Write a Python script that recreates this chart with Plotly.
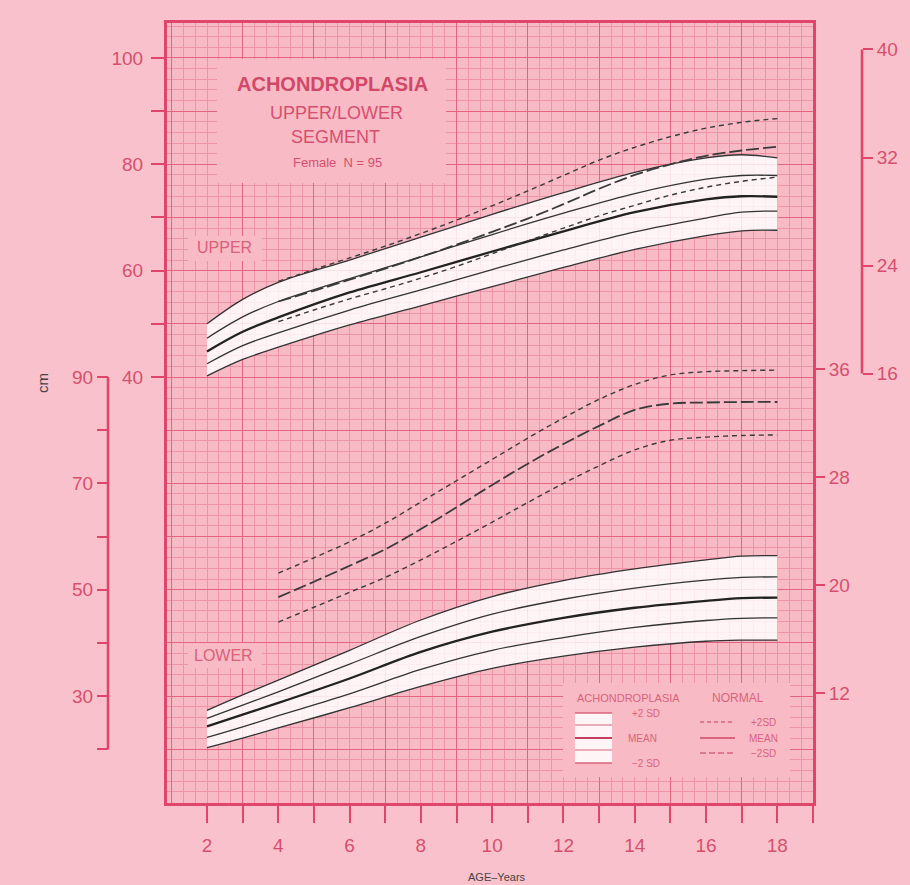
import numpy as np
import plotly.graph_objects as go

W, H = 910, 885

# ---------------- data ----------------
ach_age = [2, 3, 4, 6, 8, 10, 12, 14, 16, 17, 18]
# upper segment, achondroplasia (cm)
up_ach_p2 = [50.0, 54.6, 57.8, 62.0, 66.3, 70.6, 74.7, 78.5, 81.2, 81.8, 81.2]
up_ach_p1 = [47.3, 51.3, 54.2, 58.5, 62.6, 66.8, 70.8, 74.5, 77.2, 77.9, 77.9]
up_ach_mean = [44.8, 48.5, 51.2, 55.9, 59.7, 63.6, 67.4, 71.0, 73.4, 74.0, 73.9]
up_ach_m1 = [42.5, 45.9, 48.3, 52.6, 56.4, 60.2, 63.9, 67.3, 69.9, 71.0, 71.2]
up_ach_m2 = [40.2, 43.3, 45.6, 49.8, 53.4, 57.0, 60.6, 64.0, 66.6, 67.5, 67.6]
# lower segment, achondroplasia (cm)
lo_ach_p2 = [27.3, 30.2, 33.0, 38.6, 44.3, 48.7, 51.7, 53.9, 55.6, 56.3, 56.4]
lo_ach_p1 = [25.8, 28.3, 30.8, 36.0, 41.2, 45.4, 48.2, 50.3, 51.8, 52.3, 52.4]
lo_ach_mean = [24.3, 26.5, 28.7, 33.3, 38.3, 42.1, 44.7, 46.6, 47.9, 48.4, 48.5]
lo_ach_m1 = [22.2, 24.2, 26.3, 30.4, 35.0, 38.6, 41.0, 42.9, 44.2, 44.6, 44.7]
lo_ach_m2 = [20.3, 22.1, 24.0, 27.8, 31.8, 35.2, 37.5, 39.2, 40.3, 40.5, 40.5]

norm_age = [4, 5, 6, 7, 8, 9, 10, 11, 12, 13, 14, 15, 16, 17, 18]
up_norm_p2 = [58.0, 60.2, 62.4, 64.6, 67.0, 69.5, 72.2, 75.0, 77.9, 80.8, 83.2, 85.2, 86.8, 87.9, 88.6]
up_norm_mean = [54.2, 56.2, 58.3, 60.4, 62.6, 64.9, 67.3, 69.8, 72.5, 75.4, 78.0, 80.0, 81.6, 82.6, 83.3]
up_norm_m2 = [50.4, 52.6, 54.7, 56.6, 58.6, 60.8, 63.2, 65.6, 68.0, 70.3, 72.3, 74.2, 75.7, 76.8, 77.6]
lo_norm_p2 = [53.1, 56.0, 59.0, 62.5, 66.5, 70.5, 74.5, 78.5, 82.3, 85.8, 88.6, 90.4, 91.0, 91.2, 91.3]
lo_norm_mean = [48.6, 51.5, 54.5, 57.6, 61.4, 65.5, 69.7, 73.7, 77.4, 80.8, 83.8, 85.0, 85.2, 85.3, 85.3]
lo_norm_m2 = [43.9, 46.7, 49.5, 52.3, 55.6, 59.1, 62.7, 66.4, 70.0, 73.3, 76.3, 78.1, 78.7, 79.0, 79.1]

# tick labels
age_ticks = list(range(2, 20))
age_labels = [str(a) if a % 2 == 0 and a <= 18 else "" for a in age_ticks]
upper_cm_ticks = list(range(40, 101, 10))
upper_cm_labels = [str(v) if v % 20 == 0 else "" for v in upper_cm_ticks]
lower_cm_ticks = list(range(20, 91, 10))
lower_cm_labels = [str(v) if v % 20 == 10 else "" for v in lower_cm_ticks]
lower_in_ticks = [12, 20, 28, 36]
upper_in_ticks = [16, 24, 32, 40]

# ---------------- geometry / style ----------------
X0, X1 = 0.878, 19.0
Y0, Y1 = -40.12, 106.58          # upper-segment cm units
OFFSET = 50.0                    # lower scale = upper scale + 50
INCH = 2.54
PL, PR, PT, PB = 167, 813, 23, 803

PAPER = "#F9C1CB"
PLOT_BG = "#F8BAC5"
FRAME = "#E0466B"
MAJ_GRID = "#E36580"
MIN_GRID = "#EF93A6"
TXT = "#D5506F"
INK = "#333333"
FILL = "rgba(255,255,255,0.82)"
FONT = "Liberation Sans, Arial, sans-serif"


def px_x(p):
    return p / W


def px_y(p):
    return 1 - p / H


def dx(p):
    return X0 + (p - PL) / (PR - PL) * (X1 - X0)


def dy(p):
    return Y1 - (p - PT) / (PB - PT) * (Y1 - Y0)


fig = go.Figure()


def band(ages, lo, hi, inner, mean, yaxis):
    fig.add_trace(go.Scatter(x=ages, y=lo, mode="lines", yaxis=yaxis,
                             line=dict(color=INK, width=1.3, shape="spline"),
                             hoverinfo="skip", showlegend=False))
    fig.add_trace(go.Scatter(x=ages, y=hi, mode="lines", yaxis=yaxis, fill="tonexty",
                             fillcolor=FILL,
                             line=dict(color=INK, width=1.3, shape="spline"),
                             hoverinfo="skip", showlegend=False))
    for s in inner:
        fig.add_trace(go.Scatter(x=ages, y=s, mode="lines", yaxis=yaxis,
                                 line=dict(color=INK, width=1.3, shape="spline"),
                                 hoverinfo="skip", showlegend=False))
    fig.add_trace(go.Scatter(x=ages, y=mean, mode="lines", yaxis=yaxis,
                             line=dict(color="#222222", width=2.3, shape="spline"),
                             hoverinfo="skip", showlegend=False))


def normal(ages, p2, mean, m2, yaxis):
    for s, dash, w in ((p2, "5px,4px", 1.4), (mean, "13px,4px", 1.8), (m2, "5px,4px", 1.4)):
        fig.add_trace(go.Scatter(x=ages, y=s, mode="lines", yaxis=yaxis,
                                 line=dict(color="#3a3a3a", width=w, dash=dash, shape="spline"),
                                 hoverinfo="skip", showlegend=False))


band(ach_age, up_ach_m2, up_ach_p2, [up_ach_p1, up_ach_m1], up_ach_mean, "y")
normal(norm_age, up_norm_p2, up_norm_mean, up_norm_m2, "y")
band(ach_age, lo_ach_m2, lo_ach_p2, [lo_ach_p1, lo_ach_m1], lo_ach_mean, "y3")
normal(norm_age, lo_norm_p2, lo_norm_mean, lo_norm_m2, "y3")

# dummy traces so that overlay axes are drawn
for xa, ya in (("x2", "y"), ("x", "y2"), ("x", "y4"), ("x", "y5")):
    fig.add_trace(go.Scatter(x=[None], y=[None], xaxis=xa, yaxis=ya, mode="lines",
                             hoverinfo="skip", showlegend=False))

dom_x = [px_x(PL), px_x(PR)]
dom_y = [px_y(PB), px_y(PT)]
tickfont = dict(family=FONT, size=19, color=TXT)

fig.update_layout(
    width=W, height=H,
    margin=dict(l=0, r=0, t=0, b=0, autoexpand=False),
    paper_bgcolor=PAPER, plot_bgcolor=PLOT_BG,
    showlegend=False,
    xaxis=dict(domain=dom_x, range=[X0, X1], tickmode="array",
               tickvals=list(range(1, 20, 2)), showticklabels=False, ticks="",
               showgrid=True, gridcolor=MAJ_GRID, gridwidth=1.4, zeroline=False,
               minor=dict(tickmode="array", tickvals=list(np.arange(1, 19.01, 1 / 3)),
                          showgrid=True, gridcolor=MIN_GRID, gridwidth=0.8, ticks=""),
               showline=True, mirror=True, linecolor=FRAME, linewidth=2.5),
    xaxis2=dict(overlaying="x", anchor="y", side="bottom", range=[X0, X1],
                tickmode="array", tickvals=age_ticks, ticktext=age_labels,
                ticks="outside", ticklen=19, tickwidth=2, tickcolor=FRAME,
                ticklabelstandoff=6,
                showgrid=False, zeroline=False, showline=False, tickfont=tickfont),
    yaxis=dict(domain=dom_y, range=[Y0, Y1], tickmode="array",
               tickvals=list(range(-40, 101, 10)), showticklabels=False, ticks="",
               showgrid=True, gridcolor=MAJ_GRID, gridwidth=1.4, zeroline=False,
               minor=dict(tickmode="array", tickvals=list(range(-40, 107, 2)),
                          showgrid=True, gridcolor=MIN_GRID, gridwidth=0.8, ticks=""),
               showline=True, mirror=True, linecolor=FRAME, linewidth=2.5),
    yaxis2=dict(overlaying="y", anchor="x", side="left", range=[Y0, Y1],
                tickmode="array", tickvals=upper_cm_ticks, ticktext=upper_cm_labels,
                ticks="outside", ticklen=15, tickwidth=2, tickcolor=FRAME,
                ticklabelstandoff=4,
                showgrid=False, zeroline=False, showline=False, tickfont=tickfont),
    yaxis3=dict(overlaying="y", anchor="free", position=px_x(108), side="left",
                range=[Y0 + OFFSET, Y1 + OFFSET],
                tickmode="array", tickvals=lower_cm_ticks, ticktext=lower_cm_labels,
                ticks="outside", ticklen=11, tickwidth=2, tickcolor=FRAME,
                showgrid=False, zeroline=False, showline=False, tickfont=tickfont),
    yaxis4=dict(overlaying="y", anchor="x", side="right",
                range=[(Y0 + OFFSET) / INCH, (Y1 + OFFSET) / INCH],
                tickmode="array", tickvals=lower_in_ticks,
                ticks="outside", ticklen=11, tickwidth=2, tickcolor=FRAME,
                showgrid=False, zeroline=False, showline=False, tickfont=tickfont),
    yaxis5=dict(overlaying="y", anchor="free", position=px_x(862), side="right",
                range=[Y0 / INCH, Y1 / INCH],
                tickmode="array", tickvals=upper_in_ticks,
                ticks="outside", ticklen=10, tickwidth=2, tickcolor=FRAME,
                showgrid=False, zeroline=False, showline=False, tickfont=tickfont),
)

shapes = []
# free axis lines (bracket scales)
shapes.append(dict(type="line", xref="paper", x0=px_x(108), x1=px_x(108),
                   yref="y3", y0=min(lower_cm_ticks), y1=max(lower_cm_ticks),
                   line=dict(color=FRAME, width=2.5)))
shapes.append(dict(type="line", xref="paper", x0=px_x(862), x1=px_x(862),
                   yref="y5", y0=min(upper_in_ticks), y1=max(upper_in_ticks),
                   line=dict(color=FRAME, width=2.5)))
# plain (gridless) boxes
for (a, b, c, d) in ((217, 446, 59, 183), (188, 262, 236, 261), (188, 262, 643, 668),
                     (563, 790, 683, 777)):
    shapes.append(dict(type="rect", layer="between", xref="x", yref="y",
                       x0=dx(a), x1=dx(b), y0=dy(d), y1=dy(c),
                       fillcolor=PLOT_BG, line=dict(width=0)))
# legend samples
shapes.append(dict(type="rect", xref="paper", yref="paper",
                   x0=px_x(575), x1=px_x(612), y0=px_y(763), y1=px_y(713),
                   fillcolor="rgba(255,255,255,0.85)", line=dict(width=0)))
for yy, w, col in ((713, 1.5, "#D8647D"), (725, 1.2, "#D8647D"), (738, 2.2, "#C8405F"),
                   (750, 1.2, "#D8647D"), (763, 1.5, "#D8647D")):
    shapes.append(dict(type="line", xref="paper", yref="paper",
                       x0=px_x(575), x1=px_x(612), y0=px_y(yy), y1=px_y(yy),
                       line=dict(color=col, width=w)))
for yy, dash, w in ((722, "4px,3px", 1.3), (738, "solid", 1.8), (753, "6px,3px", 1.3)):
    shapes.append(dict(type="line", xref="paper", yref="paper",
                       x0=px_x(700), x1=px_x(735), y0=px_y(yy), y1=px_y(yy),
                       line=dict(color="#D8647D", width=w, dash=dash)))
fig.update_layout(shapes=shapes)

ann = []


def txt(s, x, y, size, color=TXT, angle=0, xanchor="center"):
    ann.append(dict(text=s, x=px_x(x), y=px_y(y), xref="paper", yref="paper",
                    showarrow=False, textangle=angle, xanchor=xanchor, yanchor="middle",
                    font=dict(family=FONT, size=size, color=color)))


txt("<b>ACHONDROPLASIA</b>", 332, 84, 20, "#D14868")
txt("UPPER/LOWER", 336, 113, 18)
txt("SEGMENT", 335, 137, 18)
txt("Female  N = 95", 337, 162, 13)
txt("UPPER", 224, 248, 16, "#D8607A")
txt("LOWER", 223, 655, 16, "#D8607A")
txt("cm", 42, 383, 15, "#444444", angle=-90)
txt("AGE\u2013Years", 497, 877, 11, "#444444")
txt("ACHONDROPLASIA", 628, 698, 11, "#D8647D")
txt("NORMAL", 738, 698, 12, "#D8647D")
txt("+2 SD", 646, 713, 10, "#D8647D")
txt("MEAN", 642, 738, 10, "#D8647D")
txt("\u22122 SD", 646, 763, 10, "#D8647D")
txt("+2SD", 763, 722, 10, "#D8647D")
txt("MEAN", 763, 738, 10, "#D8647D")
txt("\u22122SD", 763, 753, 10, "#D8647D")
fig.update_layout(annotations=ann)

fig.write_html("out.html")
